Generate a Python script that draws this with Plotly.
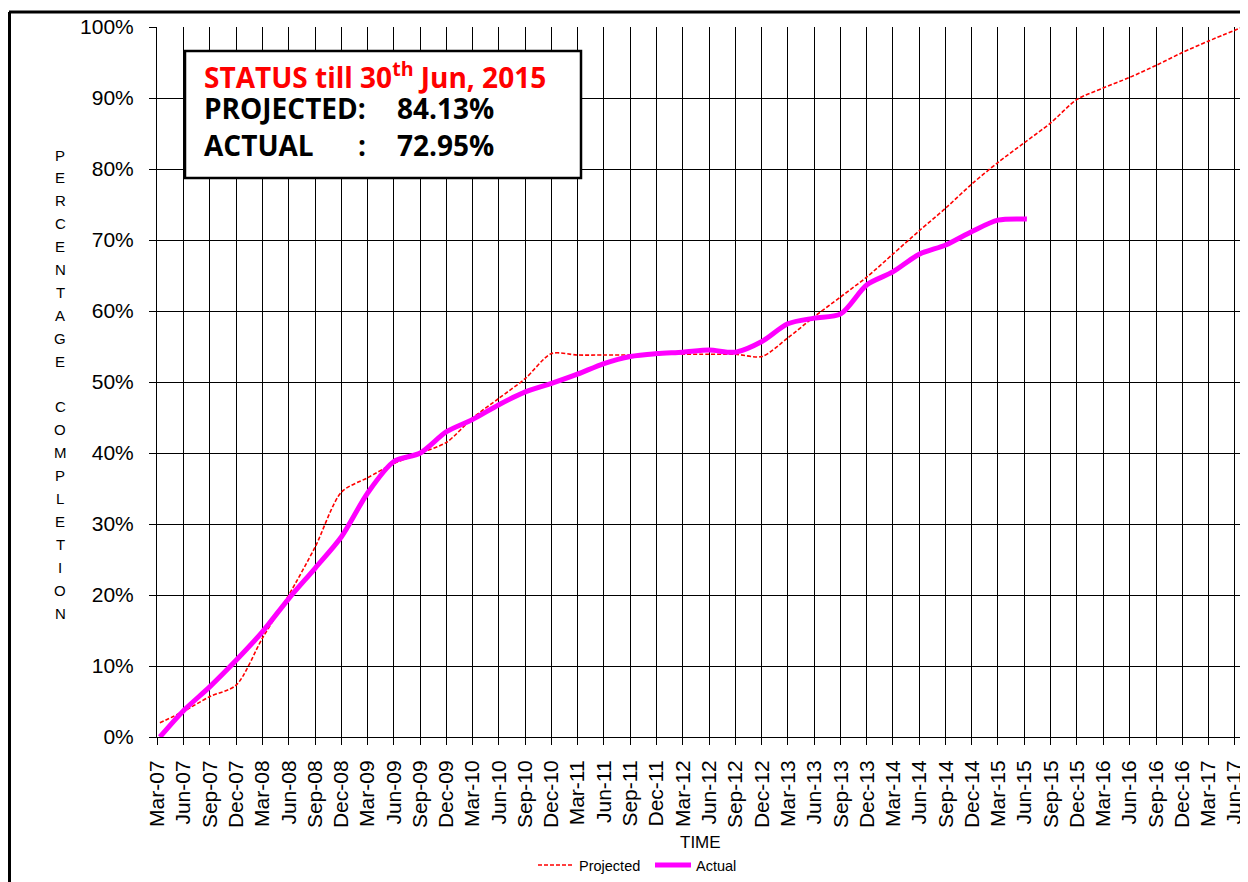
import plotly.graph_objects as go

# ---------------- data ----------------
proj_dates = [
    "2007-03-11", "2007-06-01", "2007-09-01", "2007-12-01",
    "2008-03-01", "2008-06-01", "2008-09-01", "2008-12-01",
    "2009-03-01", "2009-06-01", "2009-09-01", "2009-12-01",
    "2010-03-01", "2010-06-01", "2010-09-01", "2010-12-01",
    "2011-03-01", "2011-06-01", "2011-09-01", "2011-12-01",
    "2012-03-01", "2012-06-01", "2012-09-01", "2012-12-01",
    "2013-03-01", "2013-06-01", "2013-09-01", "2013-12-01",
    "2014-03-01", "2014-06-01", "2014-09-01", "2014-12-01",
    "2015-03-01", "2015-06-01", "2015-09-01", "2015-12-01",
    "2016-03-01", "2016-06-01", "2016-09-01", "2016-12-01",
    "2017-03-01", "2017-06-30",
]
projected = [
    2.0, 3.6, 5.7, 7.3,
    13.9, 20.0, 26.8, 34.5,
    36.5, 38.5, 40.0, 41.5,
    44.9, 47.7, 50.5, 54.0,
    53.8, 53.8, 53.8, 53.9,
    53.9, 53.9, 53.9, 53.6,
    56.2, 59.2, 62.0, 64.8,
    68.0, 71.3, 74.5, 77.9,
    80.9, 83.7, 86.5, 89.8,
    91.4, 92.9, 94.6, 96.4,
    98.0, 100.0,
]

actual_dates = [
    "2007-03-11", "2007-06-01", "2007-09-01", "2007-12-01",
    "2008-03-01", "2008-06-01", "2008-09-01", "2008-12-01",
    "2009-03-01", "2009-06-01", "2009-09-01", "2009-12-01",
    "2010-03-01", "2010-06-01", "2010-09-01", "2010-12-01",
    "2011-03-01", "2011-06-01", "2011-09-01", "2011-12-01",
    "2012-03-01", "2012-06-01", "2012-09-01", "2012-12-01",
    "2013-03-01", "2013-06-01", "2013-09-01", "2013-12-01",
    "2014-03-01", "2014-06-01", "2014-09-01", "2014-12-01",
    "2015-03-01", "2015-06-10",
]
actual = [
    0.0, 3.7, 7.1, 10.8,
    14.8, 19.5, 23.8, 28.2,
    34.3, 38.8, 40.0, 43.0,
    44.7, 46.8, 48.6, 49.8,
    51.1, 52.6, 53.6, 54.0,
    54.2, 54.5, 54.2, 55.7,
    58.2, 59.0, 59.6, 63.7,
    65.5, 68.0, 69.3, 71.2,
    72.8, 72.95,
]

x_range = ["2007-03-01", "2017-06-30"]
y_title = "PERCENTAGE COMPLETION"
status_title = "STATUS till 30<sup>th</sup> Jun, 2015"
status_projected = "84.13%"
status_actual = "72.95%"

# ---------------- layout helpers ----------------
# the page body has an 8px margin, so the figure is drawn at (8, 8)
OFF = 8
W, H = 1248 - OFF, 882 - OFF
L, R, T, B = 157, 1243, 27, 737   # plot area in window pixels


def px(x):
    return (x - L) / (R - L)


def py(y):
    return (B - y) / (B - T)


FONT = "Liberation Sans, Arial, sans-serif"
BOLD = "Open Sans, Noto Sans, sans-serif"

fig = go.Figure()
fig.add_trace(go.Scatter(
    x=proj_dates, y=[v / 100 for v in projected], name="Projected",
    mode="lines", line=dict(color="#FF0000", width=1.6, dash="4px,2px",
                            shape="spline", smoothing=0.8),
))
fig.add_trace(go.Scatter(
    x=actual_dates, y=[v / 100 for v in actual], name="Actual",
    mode="lines", line=dict(color="#FF00FF", width=5, shape="spline",
                            smoothing=0.8),
))

annotations = []
# vertical stacked y title
for i, ch in enumerate(y_title):
    if ch == " ":
        continue
    annotations.append(dict(
        text=ch, x=px(60), y=py(155 + i * 22.9), xref="paper", yref="paper",
        showarrow=False, xanchor="center", yanchor="middle",
        font=dict(family=FONT, size=15, color="black"),
    ))
annotations.append(dict(
    text="TIME", x=0.5, y=py(842), xref="paper", yref="paper",
    showarrow=False, xanchor="center", yanchor="middle",
    font=dict(family=FONT, size=17, color="black"),
))

# status box texts
annotations.append(dict(
    text="<b>" + status_title + "</b>", x=px(202), y=py(75), xref="paper",
    yref="paper", showarrow=False, xanchor="left", yanchor="middle",
    font=dict(family=BOLD, size=28, color="#FF0000"),
))
for txt, xp, yp in [("PROJECTED:", 202, 108), (status_projected, 395, 108),
                    ("ACTUAL", 202, 145), (":", 356, 145),
                    (status_actual, 395, 145)]:
    annotations.append(dict(
        text="<b>" + txt + "</b>", x=px(xp), y=py(yp), xref="paper",
        yref="paper", showarrow=False, xanchor="left", yanchor="middle",
        font=dict(family=BOLD, size=28, color="black"),
    ))

shapes = [
    dict(type="rect", xref="paper", yref="paper", x0=px(185), x1=px(581),
         y0=py(178), y1=py(51), line=dict(color="black", width=2.5),
         fillcolor="white", layer="above"),
    dict(type="line", xref="paper", yref="paper", x0=px(9), x1=px(1260),
         y0=py(12), y1=py(12), line=dict(color="black", width=3)),
    dict(type="line", xref="paper", yref="paper", x0=px(9.5), x1=px(9.5),
         y0=py(12), y1=py(900), line=dict(color="black", width=3)),
]

fig.update_layout(
    width=W, height=H,
    margin=dict(l=L - OFF, r=W - (R - OFF), t=T - OFF, b=H - (B - OFF),
                autoexpand=False),
    paper_bgcolor="white", plot_bgcolor="white",
    showlegend=True,
    legend=dict(orientation="h", x=px(533), xanchor="left", y=py(865),
                yanchor="middle", font=dict(family=FONT, size=14.5,
                                            color="black"),
                itemwidth=36, tracegroupgap=0,
                entrywidth=66, entrywidthmode="pixels"),
    annotations=annotations,
    shapes=shapes,
)
fig.update_xaxes(
    type="date", range=x_range, tick0="2007-03-01", dtick="M3",
    tickformat="%b-%y", tickangle=-90, showgrid=True, gridcolor="black",
    gridwidth=1, ticks="outside", ticklen=7, tickcolor="black",
    showline=True, linecolor="black", linewidth=1,
    tickfont=dict(family=FONT, size=21, color="black"),
    ticklabelstandoff=7, zeroline=False, automargin=False,
)
fig.update_yaxes(
    range=[0, 1], dtick=0.1, tickformat=".0%", showgrid=True,
    gridcolor="black", gridwidth=1, ticks="outside", ticklen=7,
    tickcolor="black", showline=True, linecolor="black", linewidth=1,
    tickfont=dict(family=FONT, size=21, color="black"),
    ticklabelstandoff=11, zeroline=False, automargin=False,
)

fig.write_html("out.html")
